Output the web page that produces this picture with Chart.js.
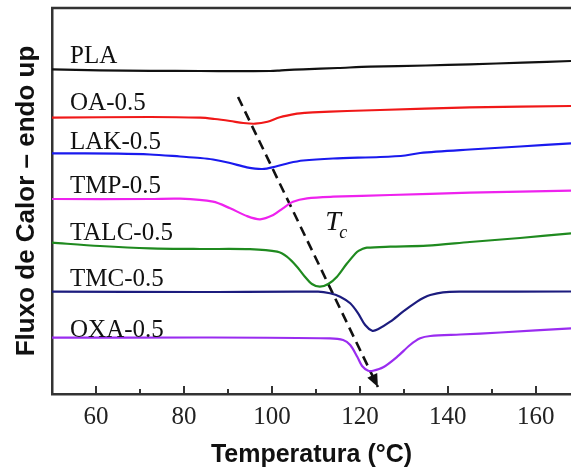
<!DOCTYPE html>
<html><head><meta charset="utf-8">
<script src="https://cdn.jsdelivr.net/npm/chart.js@4.4.1/dist/chart.umd.min.js"></script>
<style>html,body{margin:0;padding:0;background:#fff;}#wrap{width:571px;height:472px;position:relative;}</style>
</head><body><div id="wrap"><canvas id="c"></canvas></div>
<script>
// ---- data (temperature in °C, heat flow in arbitrary offset units) ----
const seriesNames = ['PLA','OA-0.5','LAK-0.5','TMP-0.5','TALC-0.5','TMC-0.5','OXA-0.5'];
const majorTicks = [60,80,100,120,140,160];
const minorTicks = [70,90,110,130,150];

const plaT = [50,60.9,72.3,83.7,92,99.6,101.3,103,107.1,115,122.3,135,145,157,168];
const plaV = [324.7,323.6,323.1,323,322.9,323,323.3,323.8,324.7,326,327.3,328.5,329.7,331.3,333];

const oaT = [50,72.3,83.7,87,90.5,93.5,96.2,99,101.8,105.7,107.5,109.3,117.1,124.6,145,168];
const oaV = [276.3,277,276.3,275,273,271,270.3,272.3,276.7,280.3,281.2,281.7,283,284,286.7,288];

const lakT = [50,65,72.3,79.1,83.7,86.6,90.5,94.3,97.8,100.9,103.9,107.1,113.9,124.6,130.3,133.7,145,156.4,168];
const lakV = [240.7,240.3,239.5,237.5,236,234.5,231,226.7,225,227.5,231,233.5,235.5,237,238.5,241,244.5,247.5,250.7];

const tmpT = [50,72.3,79.1,86.6,90.5,94.3,97.3,100.3,102.5,104.8,108,113.9,126.9,145,168];
const tmpV = [195,195,195.3,192.3,185.7,178,174.7,179,185.7,192.3,195.7,197.3,199,201.3,203.3];

const talcT = [50,60.9,72.3,83.7,95,101.2,103.4,105.7,107.5,109.1,110.9,112.8,114.8,117.1,119.4,120.5,121.6,126.9,135.3,145,156.4,168];
const talcV = [151.3,148,145.7,145,144.8,142.3,137.3,127.3,117.3,110,107.3,110,117.3,130.7,142.3,144.9,146.3,147.3,148.3,152,156,160.7];

const tmcT = [50,83.7,110.5,113.2,115.5,117.8,119.6,121.2,122.8,124.1,126.9,129.8,133,134.5,136,138.9,142.8,168];
const tmcV = [102.3,102,102.3,100.7,97.3,90.7,80.7,69,63.3,64.7,72.3,82.3,92.3,96.2,99,101.7,102.3,102.5];

const oxaT = [50,83.7,113.2,116.2,117.8,119.4,120.5,121.9,123,125.3,128.5,131.4,133.7,136,142.8,151.9,168];
const oxaV = [56.3,56.5,55.7,54,49,37.3,28,23.3,23.3,26.7,37.3,49,55.7,58,59.5,61.5,65.7];

const arrowT = [92.3,124.1];
const arrowV = [297,7];

const seriesT = [plaT,oaT,lakT,tmpT,talcT,tmcT,oxaT];
const seriesV = [plaV,oaV,lakV,tmpV,talcV,tmcV,oxaV];
const colors = ['#111111','#f01818','#1a1aee','#ee22ee','#1f8a1f','#1c1c7e','#9a2cf0'];

const toPts = (T,V)=>T.map((t,i)=>({x:t,y:V[i]}));

const datasets = seriesNames.map((n,i)=>({
  label:n, data:toPts(seriesT[i],seriesV[i]), borderColor:colors[i], borderWidth:2.2,
  pointRadius:0, tension:0.3, fill:false
}));
datasets.push({label:'Tc', data:toPts(arrowT,arrowV), borderColor:'#111', borderWidth:2.6,
  borderDash:[10,6], pointRadius:0, tension:0, fill:false});

// label anchors (temperature / value units)
const labelT = 54.1;
const labelV = [331,284,245,200.7,154,108,57.3];

const decor = {
  id:'decor',
  afterDatasetsDraw(chart){
    const {ctx, chartArea:a, scales:{x,y}} = chart;
    ctx.save();
    ctx.strokeStyle='#333'; ctx.lineWidth=2.5;
    ctx.beginPath(); ctx.moveTo(a.left-1, a.top); ctx.lineTo(a.right, a.top); ctx.stroke();
    ctx.lineWidth=2;
    majorTicks.forEach(v=>{const p=Math.round(x.getPixelForValue(v)); ctx.beginPath(); ctx.moveTo(p,a.bottom); ctx.lineTo(p,a.bottom-8); ctx.stroke();});
    minorTicks.forEach(v=>{const p=Math.round(x.getPixelForValue(v)); ctx.beginPath(); ctx.moveTo(p,a.bottom); ctx.lineTo(p,a.bottom-5); ctx.stroke();});
    // curve labels
    ctx.fillStyle='#111'; ctx.font='25px "Liberation Serif"'; ctx.textAlign='left'; ctx.textBaseline='alphabetic';
    seriesNames.forEach((n,i)=>ctx.fillText(n, x.getPixelForValue(labelT), y.getPixelForValue(labelV[i])));
    // Tc label
    const tx = x.getPixelForValue(112.1), ty = y.getPixelForValue(164);
    ctx.font='italic 28px "Liberation Serif"'; ctx.fillText('T', tx, ty);
    ctx.font='italic 18px "Liberation Serif"'; ctx.fillText('c', tx+14, ty+8);
    // arrow head
    const x0=x.getPixelForValue(arrowT[0]), y0=y.getPixelForValue(arrowV[0]);
    const x1=x.getPixelForValue(arrowT[1]), y1=y.getPixelForValue(arrowV[1]);
    const ang=Math.atan2(y1-y0,x1-x0), L=13, W=5.5;
    ctx.fillStyle='#111';
    ctx.beginPath();
    ctx.moveTo(x1,y1);
    ctx.lineTo(x1-L*Math.cos(ang)+W*Math.sin(ang), y1-L*Math.sin(ang)-W*Math.cos(ang));
    ctx.lineTo(x1-L*Math.cos(ang)-W*Math.sin(ang), y1-L*Math.sin(ang)+W*Math.cos(ang));
    ctx.closePath(); ctx.fill();
    ctx.restore();
  }
};

new Chart(document.getElementById('c'),{
  type:'line',
  data:{datasets},
  options:{
    responsive:true, maintainAspectRatio:false, animation:false, devicePixelRatio:1,
    layout:{padding:{top:8,left:0,right:0,bottom:0}},
    plugins:{legend:{display:false}, tooltip:{enabled:false}},
    scales:{
      x:{type:'linear', min:50, max:168,
        afterFit(s){s.height=78;},
        afterBuildTicks(s){s.ticks=majorTicks.map(v=>({value:v}));},
        grid:{display:false, drawTicks:false},
        border:{display:true, color:'#333', width:2.5},
        ticks:{padding:8, color:'#222', font:{family:'Liberation Serif', size:25}},
        title:{display:true, text:'Temperatura (°C)', color:'#111', padding:{top:0,bottom:2},
          font:{family:'Liberation Sans', weight:'bold', size:25}}
      },
      y:{type:'linear', min:0, max:386,
        afterFit(s){s.width=52;},
        grid:{display:false, drawTicks:false},
        border:{display:true, color:'#333', width:2.5},
        ticks:{display:false},
        title:{display:true, text:'Fluxo de Calor – endo up', color:'#111', padding:{top:11,bottom:0},
          font:{family:'Liberation Sans', weight:'bold', size:26}}
      }
    }
  },
  plugins:[decor]
});
</script></body></html>
